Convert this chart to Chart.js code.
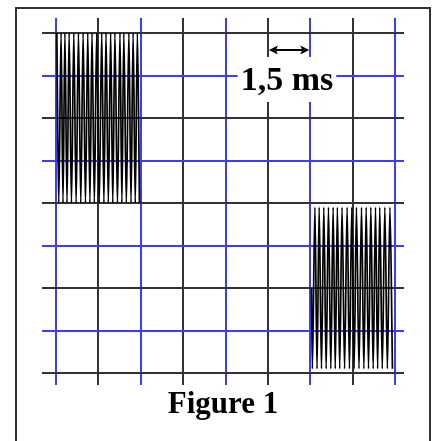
<!DOCTYPE html>
<html>
<head>
<meta charset="utf-8">
<script src="https://cdn.jsdelivr.net/npm/chart.js@4/dist/chart.umd.min.js"></script>
<style>
  html, body { margin: 0; padding: 0; background: #fff; overflow: hidden; }
  #frame { position: absolute; left: 15px; top: 7px; width: 412px; height: 480px; border: 2px solid #333; }
  #scope { position: absolute; left: 0; top: 0; }
</style>
</head>
<body>
<div id="frame"></div>
<canvas id="scope" width="433" height="441"></canvas>
<script>
// screen is 8 x 8 divisions, horizontal: 1 div = 1,5 ms
const figureTitle = 'Figure 1';
const noteText = '1,5 ms';

// first burst (top left), time in divisions, level in divisions
const burst1Time = [0.02, 0.065, 0.12, 0.165, 0.21, 0.26, 0.31, 0.365, 0.42, 0.475,
    0.53, 0.585, 0.64, 0.695, 0.75, 0.80, 0.85, 0.905, 0.96, 1.02,
    1.08, 1.13, 1.18, 1.235, 1.29, 1.34, 1.39, 1.45, 1.51, 1.555,
    1.60, 1.66, 1.72, 1.77, 1.82, 1.87, 1.92, 1.97];
const burst1Level = [4, 0, 4, 0, 4, 0, 4, 0, 4, 0,
    4, 0, 4, 0, 4, 0, 4, 0, 4, 0,
    4, 0, 4, 0, 4, 0, 4, 0, 4, 0,
    4, 0, 4, 0, 4, 0, 4, 0];

// second burst (bottom right)
const burst2Time = [6.03, 6.05, 6.11, 6.16, 6.21, 6.265, 6.32, 6.375, 6.43, 6.485,
    6.54, 6.59, 6.64, 6.695, 6.75, 6.81, 6.87, 6.925, 6.98, 7.035,
    7.09, 7.15, 7.21, 7.265, 7.32, 7.375, 7.43, 7.485, 7.54, 7.59,
    7.64, 7.70, 7.76, 7.82, 7.88, 7.94];
const burst2Level = [-2, -3.9, -0.1, -3.9, -0.1, -3.9, -0.1, -3.9, -0.1, -3.9,
    -0.1, -3.9, -0.1, -3.9, -0.1, -3.9, -0.1, -3.9, -0.1, -3.9,
    -0.1, -3.9, -0.1, -3.9, -0.1, -3.9, -0.1, -3.9, -0.1, -3.9,
    -0.1, -3.9, -0.1, -3.9, -0.1, -3.9];

const gridBlack = '#333333';
const gridBlue = '#3c3cff';
const xLineColor = ctx => ctx.index % 2 === 0 ? gridBlue : gridBlack;
const yLineColor = ctx => ctx.index % 2 === 0 ? gridBlack : gridBlue;

const toPoints = (xs, ys) => xs.map((v, i) => ({ x: v, y: ys[i] }));

const makeScale = (position, min, max, color, tickLength, onArea) => ({
    type: 'linear',
    position: position,
    min: min,
    max: max,
    ticks: { display: false, stepSize: 1 },
    border: { display: false },
    grid: { color: color, lineWidth: 2, tickLength: tickLength, drawOnChartArea: onArea }
});

// "1,5 ms" label with its double arrow over one division
const scaleNote = {
    id: 'scaleNote',
    afterDatasetsDraw(chart) {
        const { ctx, scales: { x, y } } = chart;
        const x0 = x.getPixelForValue(5);
        const x1 = x.getPixelForValue(6);
        const ay = y.getPixelForValue(3.6);
        ctx.save();

        ctx.font = 'bold 34px "Liberation Serif"';
        const w = ctx.measureText(noteText).width;
        const cx = x.getPixelForValue(5.45);
        const by = y.getPixelForValue(2.66);
        ctx.fillStyle = '#fff';
        ctx.fillRect(cx - w / 2 - 3, by - 33, w + 6, 45);
        ctx.fillStyle = '#000';
        ctx.textAlign = 'center';
        ctx.textBaseline = 'alphabetic';
        ctx.fillText(noteText, cx, by);

        ctx.strokeStyle = '#000';
        ctx.lineWidth = 2;
        ctx.beginPath();
        ctx.moveTo(x0 + 4, ay);
        ctx.lineTo(x1 - 4, ay);
        ctx.stroke();
        ctx.beginPath();
        ctx.moveTo(x0 + 1, ay);
        ctx.lineTo(x0 + 10, ay - 4.5);
        ctx.lineTo(x0 + 8, ay);
        ctx.lineTo(x0 + 10, ay + 4.5);
        ctx.closePath();
        ctx.moveTo(x1 - 1, ay);
        ctx.lineTo(x1 - 10, ay - 4.5);
        ctx.lineTo(x1 - 8, ay);
        ctx.lineTo(x1 - 10, ay + 4.5);
        ctx.closePath();
        ctx.fill();
        ctx.restore();
    }
};

new Chart(document.getElementById('scope'), {
    type: 'line',
    data: {
        datasets: [{
            data: toPoints(burst1Time, burst1Level),
            borderColor: '#000',
            borderWidth: 1.7,
            pointRadius: 0,
            cubicInterpolationMode: 'monotone',
            clip: false
        }, {
            data: toPoints(burst2Time, burst2Level),
            borderColor: '#000',
            borderWidth: 1.7,
            pointRadius: 0,
            cubicInterpolationMode: 'monotone',
            clip: false
        }]
    },
    options: {
        responsive: false,
        animation: false,
        layout: { padding: { left: 42, right: 29, top: 18, bottom: 17.8 } },
        scales: {
            x: makeScale('bottom', 0, 8, xLineColor, 12, true),
            xTop: makeScale('top', 0, 8, xLineColor, 15, false),
            y: makeScale('left', -4, 4, yLineColor, 14, true),
            yRight: makeScale('right', -4, 4, yLineColor, 9, false)
        },
        plugins: {
            legend: { display: false },
            tooltip: { enabled: false },
            title: {
                display: true,
                position: 'bottom',
                text: figureTitle,
                color: '#000',
                font: { family: 'Liberation Serif', size: 31, weight: 'bold', lineHeight: 1.2 },
                padding: { top: 1, bottom: 0 }
            }
        }
    },
    plugins: [scaleNote]
});
</script>
</body>
</html>
